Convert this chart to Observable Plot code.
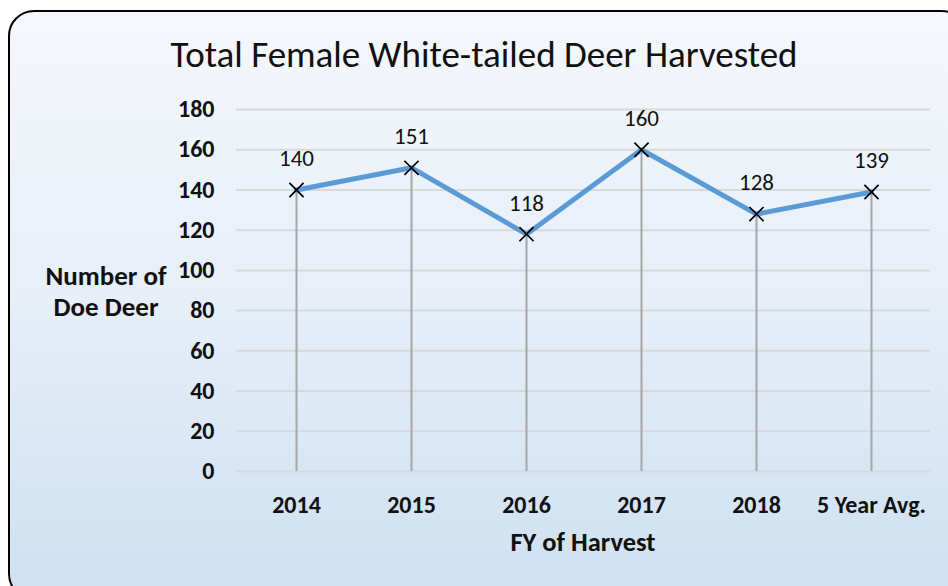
<!DOCTYPE html>
<html>
<head>
<meta charset="utf-8">
<script src="https://cdn.jsdelivr.net/npm/d3@7"></script>
<script src="https://cdn.jsdelivr.net/npm/@observablehq/plot@0.6"></script>
<style>
  html, body { margin: 0; padding: 0; background: #ffffff; }
  #wrap { position: relative; width: 948px; height: 586px; overflow: hidden; font-family: Carlito, Lato, "Open Sans", sans-serif; }
  #frame { position: absolute; left: 8px; top: 10px; width: 960px; height: 590px; box-sizing: border-box;
    border: 2px solid #000; border-radius: 26px;
    background: linear-gradient(to bottom, #f5f8fc 0%, #e6eef8 50%, #cde0f1 100%); }
  #title { position: absolute; left: 0; width: 968px; top: 33px; text-align: center; font-size: 37px; color: #111; line-height: 44px; }
  #ylabel { position: absolute; left: 16px; width: 180px; top: 260px; text-align: center; font-size: 27px; font-weight: bold; line-height: 31px; color: #111; }
  #xlabel { position: absolute; left: 236px; width: 694px; top: 526px; text-align: center; font-size: 26.5px; font-weight: bold; color: #111; line-height: 32px; }
  #chart { position: absolute; left: 0; top: 0; }
  #chart svg g[aria-label="y-axis tick label"] text,
  #chart svg g[aria-label="x-axis tick label"] text { font-size: 24px; font-weight: bold; }
  #chart svg g[aria-label="text"] text { font-size: 23px; }
</style>
</head>
<body>
<div id="wrap">
  <div id="frame"></div>
  <div id="title">Total Female White-tailed Deer Harvested</div>
  <div id="ylabel">Number of<br>Doe Deer</div>
  <div id="xlabel">FY of Harvest</div>
  <div id="chart"></div>
</div>
<script>
const categories = ["2014", "2015", "2016", "2017", "2018", "5 Year Avg."];
const values = [140, 151, 118, 160, 128, 139];
const yTicks = [0, 20, 40, 60, 80, 100, 120, 140, 160, 180];

const data = categories.map((c, i) => ({cat: c, value: values[i]}));

const chart = Plot.plot({
  width: 948,
  height: 586,
  marginLeft: 236,
  marginRight: 18,
  marginTop: 109,
  marginBottom: 115,
  style: {background: "transparent", fontFamily: "Carlito, Lato, 'Open Sans', sans-serif", fontSize: "18px", color: "#111"},
  x: {type: "point", domain: categories, padding: 0.5, label: null},
  y: {domain: [0, 180], label: null},
  marks: [
    Plot.ruleY(yTicks, {stroke: "#d9d9d9", strokeWidth: 2}),
    Plot.ruleX(data, {x: "cat", y1: 0, y2: "value", stroke: "#a6a6a6", strokeWidth: 2}),
    Plot.line(data, {x: "cat", y: "value", stroke: "#5b9bd5", strokeWidth: 5, strokeLinejoin: "miter"}),
    Plot.dot(data, {x: "cat", y: "value", symbol: "times", r: 6.5, stroke: "#000", strokeWidth: 1.7}),
    Plot.text(data, {x: "cat", y: "value", text: d => String(d.value), dy: -31, fontSize: 23, fill: "#111", lineAnchor: "middle"}),
    Plot.axisY({ticks: yTicks, tickSize: 0, tickPadding: 22, fontWeight: "bold", fontSize: 24, label: null}),
    Plot.axisX({tickSize: 0, tickPadding: 24, fontWeight: "bold", fontSize: 24, label: null})
  ]
});
document.getElementById("chart").appendChild(chart);
</script>
</body>
</html>
